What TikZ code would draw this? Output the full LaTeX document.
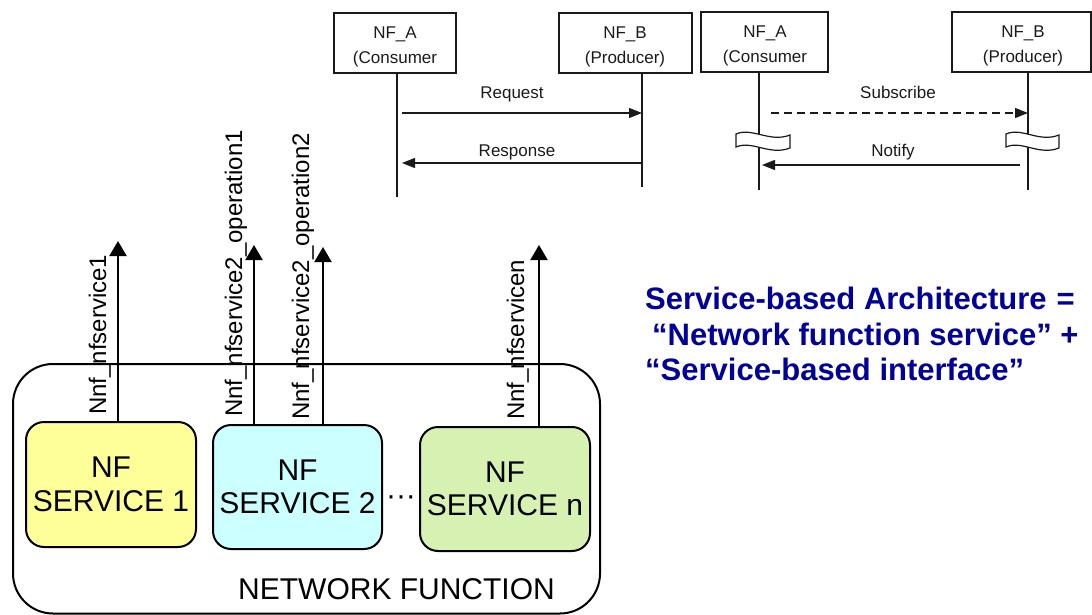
\documentclass[tikz,border=0pt]{standalone}
\usepackage{fontspec}
\setmainfont{Liberation Sans}
\usetikzlibrary{arrows.meta}

\definecolor{svcyellow}{HTML}{FFFF99}
\definecolor{svccyan}{HTML}{CCFFFF}
\definecolor{svcgreen}{HTML}{D7F1B3}
\definecolor{sbablue}{HTML}{000099}
\definecolor{seqline}{HTML}{1A1A1A}

\begin{document}
\begin{tikzpicture}[x=1pt,y=-1pt,
  seqbox/.style={draw=seqline, line width=1.3pt, minimum width=#1, minimum height=60pt, inner sep=0pt},
  seqtxt/.style={anchor=base, inner sep=0pt, font=\fontsize{17}{20}\selectfont, text=seqline},
  lifeline/.style={draw=seqline, line width=1.3pt},
  msg/.style={draw=seqline, line width=1.4pt, -{Triangle[length=13pt,width=10pt]}},
  msgdash/.style={msg, dash pattern=on 8pt off 5pt},
  breakmark/.style={draw=seqline, line width=1.2pt, fill=white},
  svcbox/.style={draw, line width=2pt, rounded corners=18pt, minimum width=#1, inner sep=0pt,
    minimum height=124pt, align=center, font=\fontsize{30}{33.5}\selectfont},
  nfbox/.style={draw, line width=2pt, rounded corners=40pt, inner sep=0pt},
  svcarrow/.style={draw, line width=2pt, -{Triangle[length=15pt,width=17pt]}},
  ifname/.style={rotate=90, anchor=base west, inner sep=0pt, font=\fontsize{24}{28}\selectfont},
  bigtxt/.style={inner sep=0pt, font=\fontsize{30}{34}\selectfont}
]
\useasboundingbox (0,0) rectangle (1092,615);

% ---------- request / response sequence ----------
\node[seqbox=122pt] (pA1) at (395,43) {};
\node[seqbox=133pt] (pB1) at (625.5,43) {};
\node[seqtxt] at (395,39) {NF\_A};
\node[seqtxt] at (395,64) {(Consumer};
\node[seqtxt] at (625,39) {NF\_B};
\node[seqtxt] at (625,64) {(Producer)};

\coordinate (ll1) at (397,197);
\coordinate (ll2) at (642,187);
\draw[lifeline] (pA1.south -| ll1) -- (ll1);
\draw[lifeline] (pB1.south -| ll2) -- (ll2);

\coordinate (req0) at (402,113);
\coordinate (req1) at (642,113);
\coordinate (rsp0) at (642,163);
\coordinate (rsp1) at (402,163);
\draw[msg] (req0) -- (req1);
\draw[msg] (rsp0) -- (rsp1);
\node[seqtxt] (lreq) at (512,99) {Request};
\node[seqtxt] (lrsp) at (517,157) {Response};

% ---------- subscribe / notify sequence ----------
\node[seqbox=127pt] (pA2) at (764.5,42) {};
\node[seqbox=139pt] (pB2) at (1021.5,42) {};
\node[seqtxt] at (765,38) {NF\_A};
\node[seqtxt] at (765,63) {(Consumer};
\node[seqtxt] at (1023,38) {NF\_B};
\node[seqtxt] at (1023,63) {(Producer)};

\coordinate (ll3) at (759,190);
\coordinate (ll4) at (1028,190);
\draw[lifeline] (pA2.south -| ll3) -- (ll3);
\draw[lifeline] (pB2.south -| ll4) -- (ll4);

% breaks in the lifelines
\draw[breakmark] (736,134) .. controls (752,127) and (770,143) .. (790,135)
  -- (790,148) .. controls (770,156) and (752,140) .. (736,147) -- cycle;
\draw[breakmark] (1006,134) .. controls (1022,127) and (1039,143) .. (1059,135)
  -- (1059,148) .. controls (1039,156) and (1022,140) .. (1006,147) -- cycle;

\coordinate (sub0) at (771,113);
\coordinate (sub1) at (1028,113);
\coordinate (ntf0) at (1020,165);
\coordinate (ntf1) at (762,165);
\draw[msgdash] (sub0) -- (sub1);
\draw[msg] (ntf0) -- (ntf1);
\node[seqtxt] (lsub) at (898,99) {Subscribe};
\node[seqtxt] (lntf) at (893,157) {Notify};

% ---------- network function with its services ----------
\node[nfbox, minimum width=587pt, minimum height=249.5pt] (nf) at (306.5,488.75) {};
\node[bigtxt, anchor=base] (nflabel) at (396.5,599) {NETWORK FUNCTION};

\node[svcbox=170pt, fill=svcyellow, minimum height=125pt] (s1) at (111,484.5) {NF\\SERVICE 1};
\node[svcbox=169pt, fill=svccyan] (s2) at (297.5,487) {NF\\SERVICE 2};
\node[svcbox=170pt, fill=svcgreen] (sn) at (505,489) {NF\\SERVICE n};
\node[bigtxt] (dots) at (401,501) {\textperiodcentered\textperiodcentered\textperiodcentered};

% service-based interfaces
\coordinate (t1) at (118,241);
\coordinate (t2) at (254,245);
\coordinate (t3) at (323,247);
\coordinate (tn) at (539,245);
\draw[svcarrow] (s1.north -| t1) -- (t1);
\draw[svcarrow] (s2.north -| t2) -- (t2);
\draw[svcarrow] (s2.north -| t3) -- (t3);
\draw[svcarrow] (sn.north -| tn) -- (tn);

\node[ifname] (i1) at (106,415) {Nnf\_nfservice1};
\node[ifname] (i2) at (242,417) {Nnf\_nfservice2\_operation1};
\node[ifname] (i3) at (309,420) {Nnf\_nfservice2\_operation2};
\node[ifname] (in) at (524,420) {Nnf\_nfservicen};

% ---------- definition ----------
\node[anchor=north west, inner sep=0pt, align=left, text=sbablue,
      font=\fontsize{31}{35.5}\bfseries\selectfont] (sba) at (645,287)
  {Service-based Architecture\hspace{10pt}=\\
   \hspace*{7pt}“Network function service” +\\
   “Service-based interface”};
\end{tikzpicture}
\end{document}
